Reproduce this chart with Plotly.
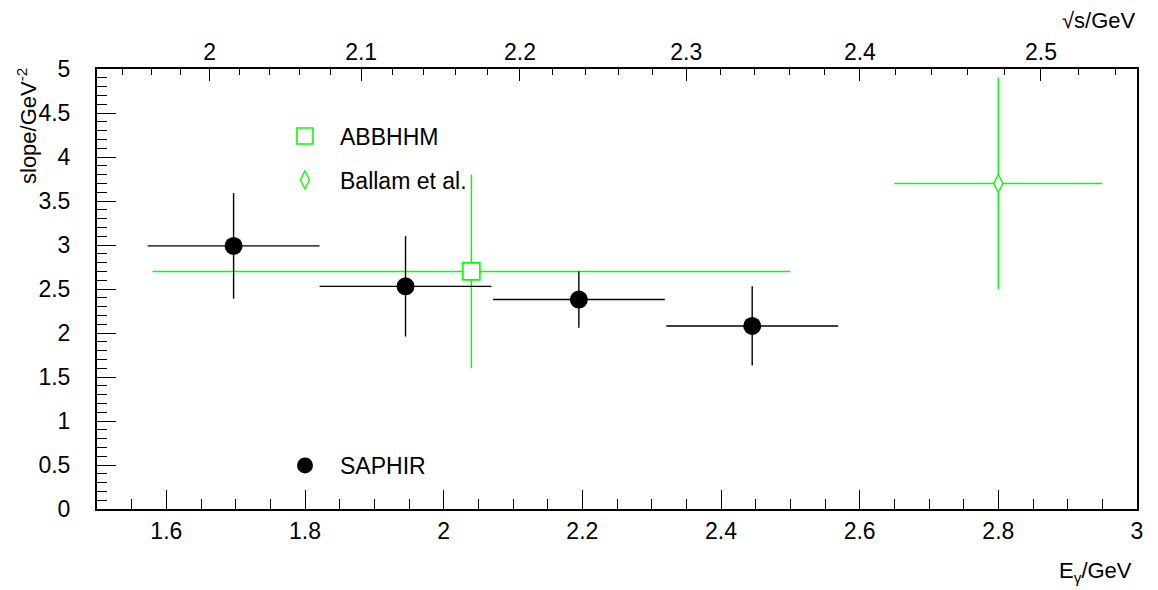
import plotly.graph_objects as go

# ---------------- data ----------------
saphir_e = [1.697, 1.945, 2.195, 2.445]
saphir_e_err = [0.124, 0.124, 0.124, 0.124]
saphir_slope = [2.99, 2.53, 2.38, 2.08]
saphir_slope_err = [0.60, 0.57, 0.32, 0.45]

abbhhm_e = [2.04]
abbhhm_e_err = [0.46]
abbhhm_slope = [2.70]
abbhhm_slope_err = [1.10]

ballam_e = [2.80]
ballam_e_err = [0.15]
ballam_slope = [3.70]
ballam_slope_err = [1.20]

x_ticks = [1.6, 1.8, 2.0, 2.2, 2.4, 2.6, 2.8, 3.0]
x_ticktext = ["1.6", "1.8", "2", "2.2", "2.4", "2.6", "2.8", "3"]
y_ticks = [0, 0.5, 1, 1.5, 2, 2.5, 3, 3.5, 4, 4.5, 5]
y_ticktext = ["0", "0.5", "1", "1.5", "2", "2.5", "3", "3.5", "4", "4.5", "5"]
w_ticks = [2.0, 2.1, 2.2, 2.3, 2.4, 2.5]
w_ticktext = ["2", "2.1", "2.2", "2.3", "2.4", "2.5"]
w_minor = [1.94, 1.96, 1.98, 2.02, 2.04, 2.06, 2.08, 2.12, 2.14, 2.16, 2.18,
           2.22, 2.24, 2.26, 2.28, 2.32, 2.34, 2.36, 2.38, 2.42, 2.44, 2.46,
           2.48, 2.52, 2.54]

M_P = 0.938272  # proton mass, GeV


def w_to_e(w):
    return (w * w - M_P * M_P) / (2 * M_P)


GREEN = "#00ff00"
FONT = "Liberation Sans, Arial, Helvetica, sans-serif"

fig = go.Figure()

fig.add_trace(go.Scatter(
    x=abbhhm_e, y=abbhhm_slope, mode="markers", name="ABBHHM",
    legend="legend", legendgroup="a",
    marker=dict(symbol="square", size=17, color="white",
                line=dict(color=GREEN, width=1.6)),
    error_x=dict(type="data", array=abbhhm_e_err, width=0, thickness=1.5, color=GREEN),
    error_y=dict(type="data", array=abbhhm_slope_err, width=0, thickness=1.5, color=GREEN),
))
fig.add_trace(go.Scatter(
    x=ballam_e, y=ballam_slope, mode="markers", name="Ballam et al.",
    legend="legend", legendgroup="b",
    marker=dict(symbol="diamond-tall", size=13, color="white",
                line=dict(color=GREEN, width=1.3)),
    error_x=dict(type="data", array=ballam_e_err, width=0, thickness=1.5, color=GREEN),
    error_y=dict(type="data", array=ballam_slope_err, width=0, thickness=1.5, color=GREEN),
))
fig.add_trace(go.Scatter(
    x=saphir_e, y=saphir_slope, mode="markers", name="SAPHIR",
    legend="legend2",
    marker=dict(symbol="circle", size=18, color="black"),
    error_x=dict(type="data", array=saphir_e_err, width=0, thickness=1.4, color="black"),
    error_y=dict(type="data", array=saphir_slope_err, width=0, thickness=1.4, color="black"),
))
# invisible trace to activate top axis
fig.add_trace(go.Scatter(x=[], y=[], xaxis="x2", showlegend=False))

# target pixel geometry (window coords); page body has an 8px margin
OFF = 8
L, R, T, B = 97, 1137, 69, 509
W, H = 1158 - OFF, 590 - OFF
pw, ph = R - L, B - T


def px_x(p):
    return (p - L) / pw


def px_y(p):
    return (B - p) / ph


fig.update_layout(
    width=W, height=H,
    margin=dict(l=L - OFF, r=W - (R - OFF), t=T - OFF, b=H - (B - OFF), pad=0),
    paper_bgcolor="white", plot_bgcolor="white",
    font=dict(family=FONT, color="black", size=23),
    showlegend=True,
    xaxis=dict(
        range=[1.5, 3.0], tickmode="array", tickvals=x_ticks, ticktext=x_ticktext,
        ticks="inside", ticklen=19, tickwidth=1, tickcolor="black",
        showline=True, linecolor="black", linewidth=2, mirror=True,
        showgrid=False, zeroline=False, ticklabelstandoff=0,
        minor=dict(dtick=0.05, tick0=1.5, ticks="inside", ticklen=10,
                   tickwidth=1, tickcolor="black", showgrid=False),
        tickfont=dict(size=23),
    ),
    xaxis2=dict(
        overlaying="x", side="top", range=[1.5, 3.0], matches="x",
        tickmode="array", tickvals=[w_to_e(w) for w in w_ticks], ticktext=w_ticktext,
        ticks="inside", ticklen=12, tickwidth=1, tickcolor="black",
        showline=False, showgrid=False, zeroline=False, ticklabelstandoff=3,
        minor=dict(tickmode="array", tickvals=[w_to_e(w) for w in w_minor],
                   ticks="inside", ticklen=6, tickwidth=1, tickcolor="black",
                   showgrid=False),
        tickfont=dict(size=23),
    ),
    yaxis=dict(
        range=[0, 5], tickmode="array", tickvals=y_ticks, ticktext=y_ticktext,
        ticks="inside", ticklen=19, tickwidth=1, tickcolor="black",
        showline=True, linecolor="black", linewidth=2, mirror=True,
        showgrid=False, zeroline=False, ticklabelstandoff=20,
        minor=dict(dtick=0.1, tick0=0, ticks="inside", ticklen=10,
                   tickwidth=1, tickcolor="black", showgrid=False),
        tickfont=dict(size=23),
    ),
    legend=dict(
        x=px_x(270), y=px_y(114.5), xanchor="left", yanchor="top",
        bgcolor="rgba(0,0,0,0)", borderwidth=0, font=dict(size=23),
        itemwidth=60, tracegroupgap=11,
    ),
    legend2=dict(
        x=px_x(270), y=px_y(444), xanchor="left", yanchor="top",
        bgcolor="rgba(0,0,0,0)", borderwidth=0, font=dict(size=23),
        itemwidth=60,
    ),
    annotations=[
        dict(text="slope/GeV<sup>-2</sup>", textangle=-90, xref="paper", yref="paper",
             x=px_x(27), y=px_y(66), xanchor="center", yanchor="top",
             showarrow=False, font=dict(size=22)),
        dict(text="\u221as/GeV", xref="paper", yref="paper",
             x=px_x(1138), y=px_y(20), xanchor="right", yanchor="middle",
             showarrow=False, font=dict(size=22)),
        dict(text="E<sub>\u03b3</sub>/GeV", xref="paper", yref="paper",
             x=px_x(1134), y=px_y(572), xanchor="right", yanchor="middle",
             showarrow=False, font=dict(size=22)),
    ],
)

fig.write_html("out.html")
